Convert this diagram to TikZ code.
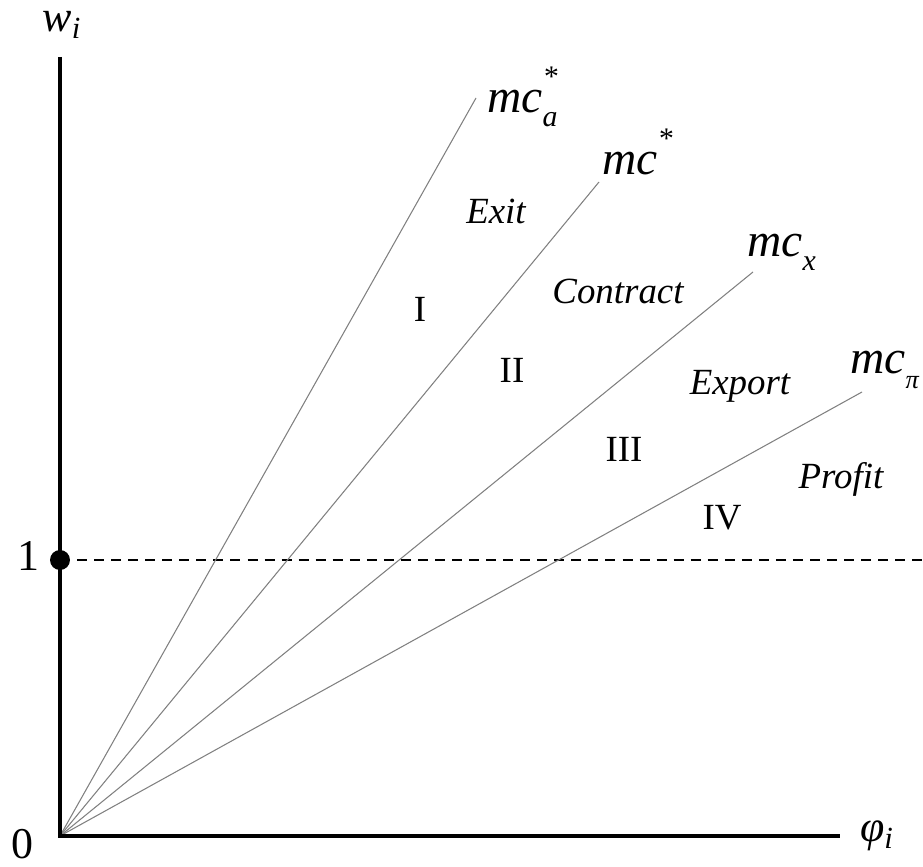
\documentclass[tikz,border=0pt]{standalone}
\usepackage{fontspec}
\setmainfont{Liberation Serif}
\newcommand\lowsub[1]{\raisebox{-0.3em}{\fontsize{17}{18}\selectfont #1}}
\newcommand\highsup[1]{\raisebox{0.55em}{\fontsize{17}{18}\selectfont #1}}
\tikzset{
  axis/.style={line width=2.3pt},
  ray/.style={gray,line width=0.6pt},
  region/.style={font=\fontsize{21}{24}\selectfont\itshape},
  numeral/.style={font=\fontsize{21}{24}\selectfont},
  curve/.style={font=\fontsize{27}{30}\selectfont\itshape,anchor=west,inner sep=0pt},
  axislabel/.style={font=\fontsize{25}{28}\selectfont}
}
\begin{document}
\begin{tikzpicture}
            \useasboundingbox (0,0) rectangle (18.46,17.34);
            \coordinate (O) at (1.2,0.62);
            \coordinate (ytop) at (1.2,16.2);
            \coordinate (xend) at (16.8,0.62);
            \coordinate (one) at (1.2,6.14);
            \coordinate (dashend) at (18.46,6.14);
            \coordinate (mca) at (9.52,15.38);
            \coordinate (mcstar) at (11.98,13.70);
            \coordinate (mcx) at (15.06,11.90);
            \coordinate (mcpi) at (17.24,9.50);
            \draw [dashed,line width=1.2pt,dash pattern=on 5.7pt off 4pt] (one)--(dashend);
            \draw [ray] (O)--(mca);
            \draw [ray] (O)--(mcstar);
            \draw [ray] (O)--(mcx);
            \draw [ray] (O)--(mcpi);
            \draw [axis] (ytop)--(O)--(xend);
            \fill (one) circle (0.2);
            \node (wlabel) at (1.24,16.84) [axislabel] {\textit{w}\textsubscript{\textit{i}}};
            \node (philabel) at (17.54,0.62) [axislabel] {\textit{φ}\textsubscript{\textit{i}}};
            \node (zero) at (0.44,0.46) [axislabel] {0};
            \node (onelabel) at (0.56,6.22) [axislabel] {1};
            \node (mcalabel) at (9.74,15.4) [curve] {mc\rlap{\highsup{*}}\lowsub{a}};
            \node (mcstarlabel) at (12.04,14.3) [curve] {mc\highsup{*}};
            \node (mcxlabel) at (14.94,12.3) [curve] {mc\lowsub{x}};
            \node (mcpilabel) at (17.0,9.94) [curve] {mc\lowsub{\fontsize{15}{16}\selectfont π}};
            \node (exit) at (9.92,13.12) [region] {Exit};
            \node (contract) at (12.36,11.52) [region] {Contract};
            \node (export) at (14.8,9.62) [region] {Export};
            \node (profit) at (16.82,7.76) [region] {Profit};
            \node (regI) at (8.4,11.16) [numeral] {I};
            \node (regII) at (10.24,9.94) [numeral] {II};
            \node (regIII) at (12.48,8.36) [numeral] {III};
            \node (regIV) at (14.44,6.98) [numeral] {IV};
        \end{tikzpicture}
\end{document}
